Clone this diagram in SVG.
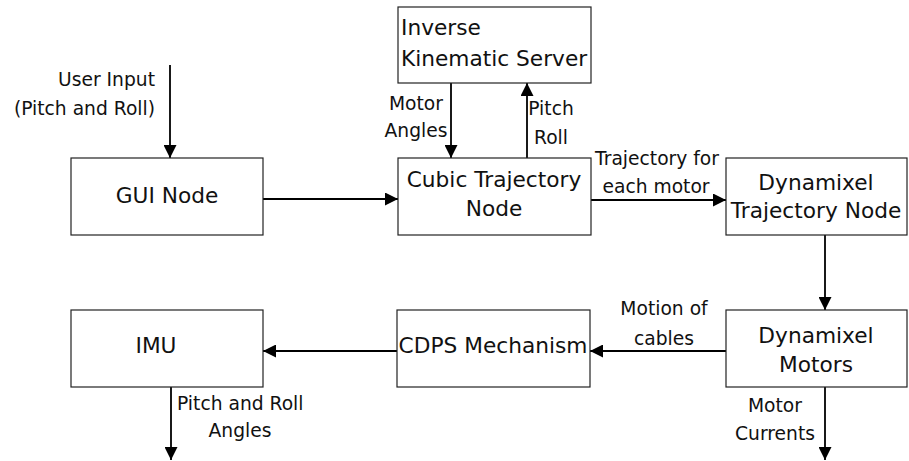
<svg xmlns="http://www.w3.org/2000/svg" width="909" height="461" viewBox="0 0 909 461">
  <style>
    .box { fill: #ffffff; stroke: #222222; stroke-width: 1.2; }
    .node { font-family: "DejaVu Sans", Verdana, sans-serif; font-size: 21.7px; fill: #111111; }
    .lbl { font-family: "DejaVu Sans", Verdana, sans-serif; font-size: 18.7px; fill: #111111; }
    .mid { text-anchor: middle; }
    .wire { fill: none; stroke: #000000; stroke-width: 1.8; marker-end: url(#arrow); }
  </style>
  <defs>
    <marker id="arrow" markerUnits="userSpaceOnUse" markerWidth="13" markerHeight="13" refX="13" refY="6.5" orient="auto">
      <path d="M0,0 L13,6.5 L0,13 Z" fill="#000000"/>
    </marker>
  </defs>
  <rect width="909" height="461" fill="#ffffff"/>

  <g id="connectors">
    <path class="wire" d="M170,65 V158"/>
    <path class="wire" d="M263,199 H398"/>
    <path class="wire" d="M451,83 V158"/>
    <path class="wire" d="M527,158 V83"/>
    <path class="wire" d="M591,200 H726"/>
    <path class="wire" d="M825,235 V310"/>
    <path class="wire" d="M726,351 H590"/>
    <path class="wire" d="M397,351 H263"/>
    <path class="wire" d="M171,387 V460"/>
    <path class="wire" d="M825,387 V460"/>
  </g>

  <g id="labels">
    <text class="lbl" x="155" y="86" text-anchor="end">User Input</text>
    <text class="lbl" x="155" y="115" text-anchor="end">(Pitch and Roll)</text>
    <text class="lbl mid" x="416" y="110">Motor</text>
    <text class="lbl mid" x="416" y="137">Angles</text>
    <text class="lbl mid" x="551" y="115">Pitch</text>
    <text class="lbl mid" x="551" y="144">Roll</text>
    <text class="lbl mid" x="657" y="165">Trajectory for</text>
    <text class="lbl mid" x="656" y="193">each motor</text>
    <text class="lbl mid" x="664" y="315">Motion of</text>
    <text class="lbl mid" x="664" y="345">cables</text>
    <text class="lbl" x="177" y="410">Pitch and Roll</text>
    <text class="lbl mid" x="240" y="437">Angles</text>
    <text class="lbl mid" x="775" y="412">Motor</text>
    <text class="lbl mid" x="775" y="440">Currents</text>
  </g>

  <g id="gui-node">
    <rect class="box" x="71" y="158" width="192" height="77"/>
    <text class="node mid" x="167" y="203">GUI Node</text>
  </g>

  <g id="ik-server">
    <rect class="box" x="398" y="7" width="193" height="76"/>
    <text class="node" x="401" y="35">Inverse</text>
    <text class="node" x="401" y="66">Kinematic Server</text>
  </g>

  <g id="cubic-trajectory">
    <rect class="box" x="398" y="158" width="193" height="77"/>
    <text class="node mid" x="494" y="187">Cubic Trajectory</text>
    <text class="node mid" x="494" y="216">Node</text>
  </g>

  <g id="dynamixel-trajectory">
    <rect class="box" x="726" y="158" width="181" height="77"/>
    <text class="node mid" x="816" y="190">Dynamixel</text>
    <text class="node mid" x="816" y="218">Trajectory Node</text>
  </g>

  <g id="dynamixel-motors">
    <rect class="box" x="726" y="310" width="181" height="77"/>
    <text class="node mid" x="816" y="343">Dynamixel</text>
    <text class="node mid" x="816" y="372">Motors</text>
  </g>

  <g id="cdps-mechanism">
    <rect class="box" x="397" y="310" width="193" height="77"/>
    <text class="node mid" x="493" y="353">CDPS Mechanism</text>
  </g>

  <g id="imu">
    <rect class="box" x="71" y="310" width="192" height="77"/>
    <text class="node mid" x="156" y="353">IMU</text>
  </g>
</svg>
